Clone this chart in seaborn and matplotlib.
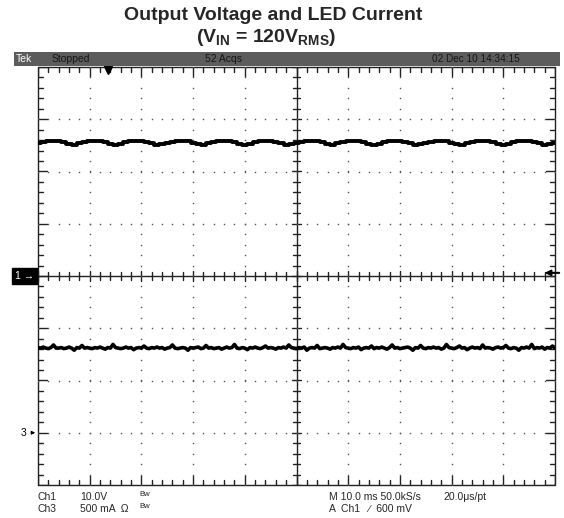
import numpy as np
import pandas as pd
import matplotlib
matplotlib.use('agg')
import matplotlib.pyplot as plt
import seaborn as sns

# scope settings
ms_per_div = 10.0
ch1_v_per_div = 10.0
ch3_a_per_div = 0.5
ch3_offset_div = -3.0

# Ch1 output voltage (V), one sample per ms, 0..100 ms
volt_t = np.arange(0, 101, 1.0)
volt = [
    25.45, 25.70, 25.80, 25.85, 25.80, 25.60, 25.20, 25.10, 25.40, 25.65,
    25.80, 25.85, 25.80, 25.65, 25.30, 25.05, 25.30, 25.60, 25.75, 25.85,
    25.80, 25.70, 25.40, 25.10, 25.20,
    25.50, 25.70, 25.80, 25.85, 25.80, 25.55, 25.20, 25.10, 25.40, 25.65,
    25.80, 25.85, 25.80, 25.65, 25.30, 25.05, 25.30, 25.60, 25.75, 25.85,
    25.80, 25.70, 25.40, 25.10, 25.20,
    25.50, 25.70, 25.85, 25.80, 25.80, 25.60, 25.20, 25.05, 25.40, 25.65,
    25.80, 25.85, 25.75, 25.65, 25.30, 25.10, 25.30, 25.60, 25.80, 25.85,
    25.80, 25.70, 25.40, 25.05, 25.20,
    25.50, 25.70, 25.80, 25.85, 25.80, 25.55, 25.20, 25.10, 25.40, 25.65,
    25.80, 25.85, 25.80, 25.65, 25.30, 25.05, 25.30, 25.60, 25.75, 25.85,
    25.80, 25.70, 25.40, 25.10, 25.20,
    25.50,
]

# Ch3 LED current (A), one sample per 0.5 ms
cur_t = np.arange(0, 100.5, 0.5)
cur = [
    0.815, 0.81, 0.82, 0.81, 0.805, 0.815, 0.84, 0.81, 0.81, 0.815, 0.805, 0.81, 0.82, 0.81, 0.79, 0.815, 0.81, 0.835, 0.81, 0.815,
    0.81, 0.805, 0.815, 0.81, 0.82, 0.81, 0.80, 0.815, 0.81, 0.845, 0.815, 0.81, 0.805, 0.81, 0.82, 0.81, 0.815, 0.795, 0.81, 0.815,
    0.81, 0.83, 0.81, 0.805, 0.815, 0.81, 0.82, 0.81, 0.815, 0.80, 0.81, 0.815, 0.84, 0.81, 0.805, 0.81, 0.815, 0.81, 0.79, 0.815,
    0.81, 0.815, 0.82, 0.805, 0.81, 0.835, 0.81, 0.815, 0.805, 0.81, 0.815, 0.80, 0.81, 0.82, 0.81, 0.815, 0.845, 0.81, 0.805, 0.815,
    0.81, 0.795, 0.815, 0.81, 0.82, 0.81, 0.805, 0.815, 0.83, 0.81, 0.815, 0.81, 0.80, 0.815, 0.81, 0.82, 0.81, 0.84, 0.815, 0.81,
    0.805, 0.815, 0.81, 0.82, 0.79, 0.81, 0.815, 0.81, 0.835, 0.805, 0.81, 0.815, 0.81, 0.80, 0.815, 0.81, 0.82, 0.81, 0.845, 0.815,
    0.81, 0.805, 0.815, 0.81, 0.82, 0.795, 0.81, 0.815, 0.81, 0.83, 0.805, 0.815, 0.81, 0.82, 0.81, 0.80, 0.815, 0.84, 0.81, 0.815,
    0.805, 0.81, 0.815, 0.82, 0.81, 0.79, 0.815, 0.81, 0.835, 0.81, 0.805, 0.815, 0.81, 0.82, 0.81, 0.815, 0.80, 0.81, 0.845, 0.815,
    0.81, 0.805, 0.815, 0.83, 0.81, 0.815, 0.795, 0.81, 0.82, 0.81, 0.815, 0.805, 0.84, 0.81, 0.815, 0.81, 0.80, 0.815, 0.82, 0.81,
    0.815, 0.835, 0.81, 0.805, 0.815, 0.81, 0.79, 0.815, 0.81, 0.82, 0.81, 0.845, 0.805, 0.815, 0.81, 0.82, 0.80, 0.815, 0.81, 0.83,
    0.81,
]

header = ['Tek', 'Stopped', '52 Acqs', '02 Dec 10 14:34:15']
footer_left = [('Ch1', '10.0V', 'Bw'), ('Ch3', '500 mA  \u03a9', 'Bw')]
footer_right = ['M 10.0 ms 50.0kS/s', '20.0\u03bcs/pt', 'A  Ch1   \u2215  600 mV']
trig_pos_div = 1.35
trig_level_v = 0.6

sns.set_style('white')
plt.rcParams['font.family'] = ['Liberation Sans', 'DejaVu Sans']
plt.rcParams['mathtext.fontset'] = 'custom'
plt.rcParams['mathtext.bf'] = 'Liberation Sans:bold'
plt.rcParams['mathtext.rm'] = 'Liberation Sans'

fig = plt.figure(figsize=(5.64, 5.18), dpi=100)
ax = fig.add_axes([38 / 564, 33 / 518, 517 / 564, 418 / 518])

# graticule
gc = '#222222'
ax.plot([0, 10, 10, 0, 0], [-4, -4, 4, 4, -4], color=gc, lw=1.0, clip_on=False)
ax.plot([0, 10], [0, 0], color=gc, lw=1.0)
ax.plot([5, 5], [-4, 4], color=gc, lw=1.0)
dpx = 1 / 52.0
for k in np.arange(0, 10.01, 0.2):
    major = abs(k - round(k)) < 1e-6
    h = (5 if major else 3.5) * dpx
    ax.plot([k, k], [-h, h], color=gc, lw=1.0)
    e = (9 if major else 5) * dpx
    ax.plot([k, k], [4, 4 - e], color=gc, lw=1.0)
    ax.plot([k, k], [-4, -4 + e], color=gc, lw=1.0)
for k in np.arange(-4, 4.01, 0.2):
    major = abs(k - round(k)) < 1e-6
    h = (5 if major else 3.5) * dpx
    ax.plot([5 - h, 5 + h], [k, k], color=gc, lw=1.0)
    e = (9 if major else 5) * dpx
    ax.plot([0, e], [k, k], color=gc, lw=1.0)
    ax.plot([10, 10 - e], [k, k], color=gc, lw=1.0)
# dotted grid
for gx in range(1, 10):
    if gx == 5:
        continue
    yy = np.arange(-4, 4.01, 0.2)
    ax.plot(np.full_like(yy, gx), yy, ls='none', marker='s', ms=1.0, mew=0, color='#555555')
for gy in range(-3, 4):
    if gy == 0:
        continue
    xx = np.arange(0, 10.01, 0.2)
    ax.plot(xx, np.full_like(xx, gy), ls='none', marker='s', ms=1.0, mew=0, color='#555555')

# traces
volt_df = pd.DataFrame({'x': volt_t / ms_per_div, 'y': np.array(volt) / ch1_v_per_div})
cur_df = pd.DataFrame({'x': cur_t / ms_per_div,
                       'y': np.array(cur) / ch3_a_per_div + ch3_offset_div})
sns.lineplot(data=volt_df, x='x', y='y', ax=ax, color='black', lw=2.8,
             estimator=None, sort=False, drawstyle='steps-mid')
sns.lineplot(data=cur_df, x='x', y='y', ax=ax, color='black', lw=2.6,
             estimator=None, sort=False)
ax.set_xlim(0, 10)
ax.set_ylim(-4, 4)
ax.axis('off')

# channel markers
ax.text(-0.08, 0, '1 \u2192', color='white', fontsize=7.5, ha='right', va='center',
        bbox=dict(boxstyle='square,pad=0.3', fc='black', ec='black'), clip_on=False)
ax.text(-0.34, ch3_offset_div, '3', color='black', fontsize=7.5, ha='left', va='center')
ax.annotate('', xy=(0, ch3_offset_div), xytext=(-0.18, ch3_offset_div),
            arrowprops=dict(arrowstyle='-|>', color='black', lw=0.8, mutation_scale=5))
ax.plot([trig_pos_div], [3.95], marker='v', ms=6, color='black', clip_on=False)
ax.annotate('', xy=(9.8, trig_level_v / ch1_v_per_div),
            xytext=(10.08, trig_level_v / ch1_v_per_div),
            arrowprops=dict(arrowstyle='-|>', color='black', lw=1.5, mutation_scale=8,
                            shrinkA=0, shrinkB=0))

# header bar
fig.patches.append(plt.Rectangle((14 / 564, 1 - 66 / 518), 546 / 564, 14 / 518,
                                 transform=fig.transFigure, fc='#5c5c5c', ec='none'))
hy = 1 - 59 / 518
fig.text(16 / 564, hy, header[0], color='white', fontsize=7.5, va='center')
fig.text(52 / 564, hy, header[1], color='#151515', fontsize=7.5, va='center')
fig.text(205 / 564, hy, header[2], color='#151515', fontsize=7.5, va='center')
fig.text(432 / 564, hy, header[3], color='#151515', fontsize=7.2, va='center')

# footer
fs = 7.5
fig.text(38 / 564, 1 - 497 / 518, footer_left[0][0], fontsize=fs, va='center')
fig.text(80 / 564, 1 - 497 / 518, footer_left[0][1], fontsize=fs, va='center')
fig.text(139 / 564, 1 - 495 / 518, footer_left[0][2], fontsize=5.5, va='center')
fig.text(38 / 564, 1 - 509 / 518, footer_left[1][0], fontsize=fs, va='center')
fig.text(80 / 564, 1 - 509 / 518, footer_left[1][1], fontsize=fs, va='center')
fig.text(139 / 564, 1 - 507 / 518, footer_left[1][2], fontsize=5.5, va='center')
fig.text(329 / 564, 1 - 497 / 518, footer_right[0], fontsize=fs, va='center')
fig.text(443 / 564, 1 - 497 / 518, footer_right[1], fontsize=fs, va='center')
fig.text(329 / 564, 1 - 509 / 518, footer_right[2], fontsize=fs, va='center')

# title
fig.text(273 / 564, 1 - 16 / 518, 'Output Voltage and LED Current', fontsize=14,
         fontweight='bold', ha='center', va='center')
fig.text(266 / 564, 1 - 37 / 518, r'(V$_{\mathbf{IN}}$ = 120V$_{\mathbf{RMS}}$)', fontsize=14,
         fontweight='bold', ha='center', va='center')

fig.savefig('out.png', dpi=100)
